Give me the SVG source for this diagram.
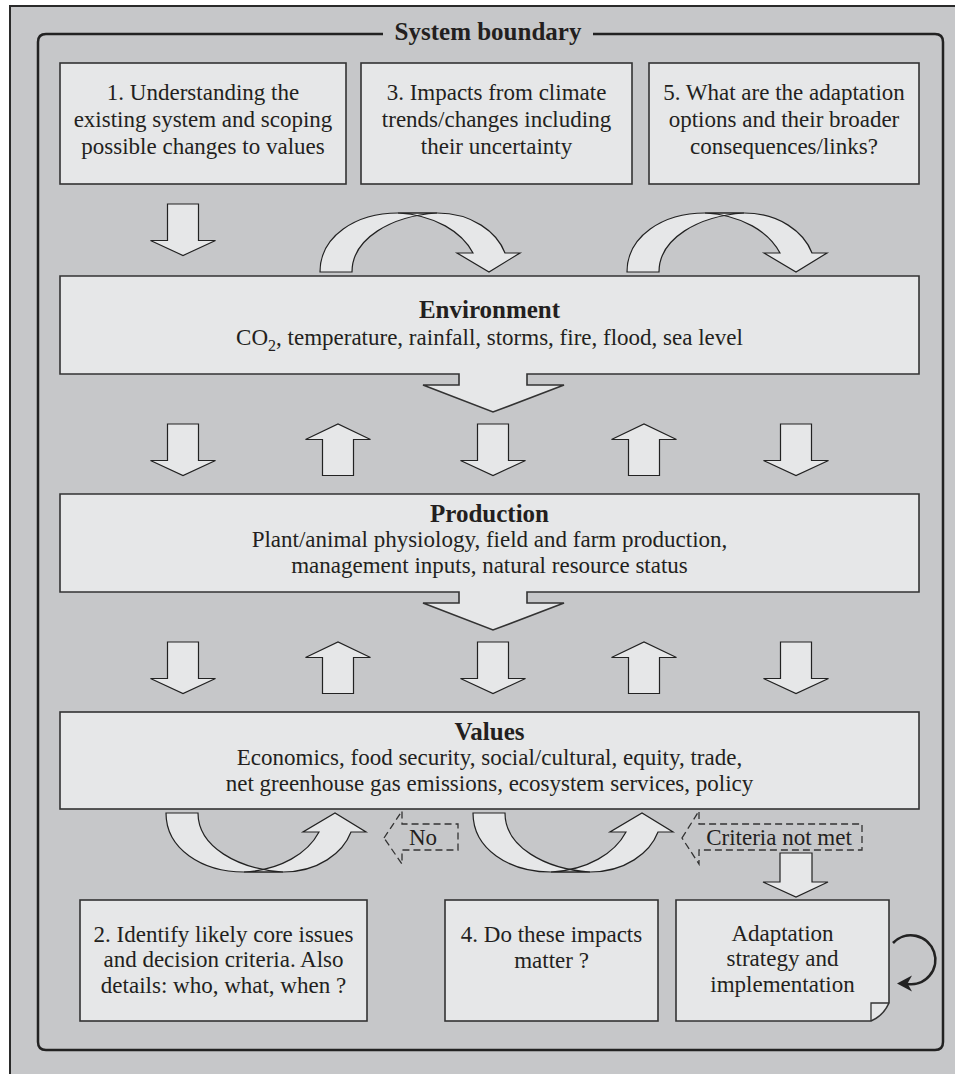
<svg xmlns="http://www.w3.org/2000/svg" xmlns:xlink="http://www.w3.org/1999/xlink" width="955" height="1074" viewBox="0 0 955 1074">
<style>
.bg{fill:#c6c7c9;stroke:#2a2a2a;stroke-width:2}
.box{fill:#e6e7e8;stroke:#333;stroke-width:1.6}
.arr{fill:#e6e7e8;stroke:#222;stroke-width:1.2;stroke-linejoin:miter}
.dash{fill:none;stroke:#333;stroke-width:1.3;stroke-dasharray:7,4}
text{font-family:"Liberation Serif","Times New Roman",serif;fill:#231f20;font-size:23px;text-anchor:middle}
.t{font-weight:bold;font-size:25px}
</style>
<defs>
<path id="down" d="M-15.5,0 H15.5 V36.5 H32.5 L0,51.5 L-32.5,36.5 H-15.5 Z"/>
<path id="up" d="M-15.5,51.5 H15.5 V15.5 H32.5 L0,0 L-32.5,15.5 H-15.5 Z"/>
<g id="ca">
<path d="M320,272 C320,236 356,213 398,213 L437,213 C392,216 352,238 352,272 Z"/>
<path d="M398,213 L437,213 C472,213 497,232 505,253 L520,253 L489,272 L457,253 L473,253 C462,232 435,215 398,213 Z"/>
</g>
</defs>
<rect x="0" y="0" width="955" height="1074" fill="#ffffff"/>
<rect class="bg" x="10" y="6" width="960" height="1080"/>
<g id="boundary">
<path d="M383,34 H46 Q38,34 38,42 V1042 Q38,1050 46,1050 H935 Q943,1050 943,1042 V42 Q943,34 935,34 H593" fill="none" stroke="#222" stroke-width="2.5"/>
<text class="t" x="488" y="40">System boundary</text>
</g>
<g id="node1">
<rect class="box" x="60" y="63" width="286" height="121"/>
<text x="203" y="100">1. Understanding the</text>
<text x="203" y="127">existing system and scoping</text>
<text x="203" y="154">possible changes to values</text>
</g>
<g id="node3">
<rect class="box" x="361" y="63" width="271" height="121"/>
<text x="496.5" y="100">3. Impacts from climate</text>
<text x="496.5" y="127">trends/changes including</text>
<text x="496.5" y="154">their uncertainty</text>
</g>
<g id="node5">
<rect class="box" x="649" y="63" width="270" height="121"/>
<text x="784" y="100">5. What are the adaptation</text>
<text x="784" y="127">options and their broader</text>
<text x="784" y="154">consequences/links?</text>
</g>
<g id="environment">
<path class="box" d="M60,276 H919 V374 H527 V385 H564 L493,412 L423,385 H459 V374 H60 Z"/>
<text class="t" x="489.5" y="318">Environment</text>
<text x="489.5" y="345">CO<tspan font-size="16" dy="6">2</tspan><tspan dy="-6">, temperature, rainfall, storms, fire, flood, sea level</tspan></text>
</g>
<g id="production">
<path class="box" d="M60,494 H919 V592 H527 V603 H564 L493,630 L423,603 H459 V592 H60 Z"/>
<text class="t" x="489.5" y="522">Production</text>
<text x="489.5" y="547">Plant/animal physiology, field and farm production,</text>
<text x="489.5" y="573">management inputs, natural resource status</text>
</g>
<g id="values">
<rect class="box" x="60" y="712" width="859" height="97"/>
<text class="t" x="489.5" y="740">Values</text>
<text x="489.5" y="765">Economics, food security, social/cultural, equity, trade,</text>
<text x="489.5" y="791">net greenhouse gas emissions, ecosystem services, policy</text>
</g>
<g id="node2">
<rect class="box" x="80" y="900" width="287" height="121"/>
<text x="223.5" y="942">2. Identify likely core issues</text>
<text x="223.5" y="967">and decision criteria. Also</text>
<text x="223.5" y="993">details: who, what, when ?</text>
</g>
<g id="node4">
<rect class="box" x="445" y="900" width="213" height="121"/>
<text x="551.5" y="942">4. Do these impacts</text>
<text x="551.5" y="968">matter ?</text>
</g>
<g id="adaptation">
<path class="box" d="M676,900 H889 V1003 Q883,1016 871,1021 H676 Z"/>
<path d="M871,1021 V1003 H889" fill="none" stroke="#333" stroke-width="1.3"/>
<text x="782.5" y="941">Adaptation</text>
<text x="782.5" y="966">strategy and</text>
<text x="782.5" y="992">implementation</text>
</g>
<g id="connectors">
<use href="#down" class="arr" transform="translate(183,204)"/>
<use href="#ca" fill="#e6e7e8" stroke="none"/>
<use href="#ca" fill="none" stroke="#222" stroke-width="1.2"/>
<use href="#ca" fill="#e6e7e8" stroke="none" transform="translate(307,0)"/>
<use href="#ca" fill="none" stroke="#222" stroke-width="1.2" transform="translate(307,0)"/>
<use href="#down" class="arr" transform="translate(183,424)"/>
<use href="#up" class="arr" transform="translate(338,424)"/>
<use href="#down" class="arr" transform="translate(493,424)"/>
<use href="#up" class="arr" transform="translate(644,424)"/>
<use href="#down" class="arr" transform="translate(796,424)"/>
<use href="#down" class="arr" transform="translate(183,642)"/>
<use href="#up" class="arr" transform="translate(338,642)"/>
<use href="#down" class="arr" transform="translate(493,642)"/>
<use href="#up" class="arr" transform="translate(644,642)"/>
<use href="#down" class="arr" transform="translate(796,642)"/>
<use href="#ca" fill="#e6e7e8" stroke="none" transform="translate(-154,1085) scale(1,-1)"/>
<use href="#ca" fill="none" stroke="#222" stroke-width="1.2" transform="translate(-154,1085) scale(1,-1)"/>
<use href="#ca" fill="#e6e7e8" stroke="none" transform="translate(153,1085) scale(1,-1)"/>
<use href="#ca" fill="none" stroke="#222" stroke-width="1.2" transform="translate(153,1085) scale(1,-1)"/>
<path class="dash" d="M384,838 L402,811 V824 H458 V850 H402 V864 Z"/>
<text x="423" y="845">No</text>
<path class="dash" d="M682,838 L699,811 V824 H862 V850 H699 V864 Z"/>
<text x="779" y="845">Criteria not met</text>
<path class="arr" d="M780,853 H812 V882 H828 L796,897 L763,882 H780 Z"/>
<path d="M893,943 A24.5,24.5 0 1 1 907,984" fill="none" stroke="#222" stroke-width="2.6"/>
<path d="M897,983.5 L912,975.5 L907.5,983.5 L912,991.5 Z" fill="#222"/>
</g>
</svg>
